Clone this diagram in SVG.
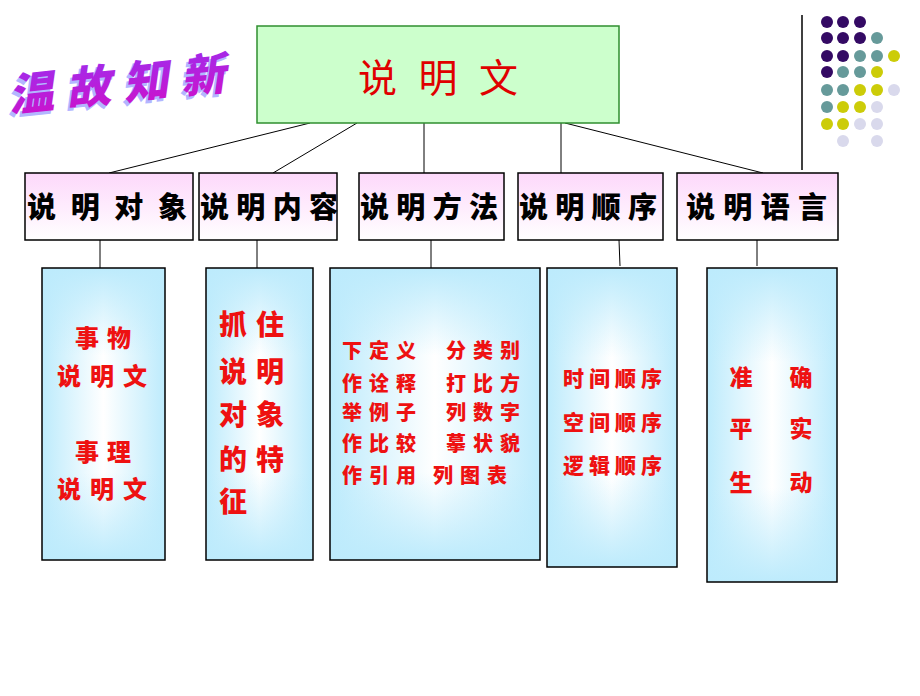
<svg xmlns="http://www.w3.org/2000/svg" width="920" height="696" viewBox="0 0 920 696">
<defs>
<linearGradient id="pink" x1="0" y1="0" x2="0" y2="1">
<stop offset="0" stop-color="#fdd8fb"/>
<stop offset="1" stop-color="#ffffff"/>
</linearGradient>
<linearGradient id="blueH" x1="0" y1="0" x2="1" y2="0">
<stop offset="0" stop-color="#bdebfc"/>
<stop offset="0.5" stop-color="#ffffff"/>
<stop offset="1" stop-color="#bdebfc"/>
</linearGradient>
<linearGradient id="blueV" x1="0" y1="0" x2="0" y2="1">
<stop offset="0" stop-color="#bdebfc" stop-opacity="1"/>
<stop offset="0.3" stop-color="#bdebfc" stop-opacity="0"/>
<stop offset="0.7" stop-color="#bdebfc" stop-opacity="0"/>
<stop offset="1" stop-color="#bdebfc" stop-opacity="1"/>
</linearGradient>
<linearGradient id="titleGrad" x1="0" y1="0" x2="0" y2="1">
<stop offset="0" stop-color="#9a30f0"/>
<stop offset="1" stop-color="#d010c8"/>
</linearGradient>
</defs>
<style>
.cjk{font-family:"Noto Sans CJK SC","Noto Sans CJK JP",sans-serif;}
.l2box{fill:url(#pink);stroke:#000;stroke-width:1.5;}
.l3h{fill:url(#blueH);stroke:none;}
.l3v{fill:url(#blueV);stroke:#000;stroke-width:1.5;}
.l2t{font-size:29px;font-weight:900;fill:#000;}
.rt{font-weight:900;fill:#ee1111;}
.conn line{stroke:#000;stroke-width:1;}
.P{fill:#340a64;}.T{fill:#669a9a;}.Y{fill:#cccc08;}.L{fill:#d9d9ec;}
</style>
<rect width="920" height="696" fill="#ffffff"/>

<g id="title">
<g transform="rotate(-6 112 78)" class="cjk" font-size="45" font-weight="900" font-style="italic">
<text x="4" y="104" fill="#b3b6ff" textLength="218" lengthAdjust="spacing">温故知新</text>
<text x="7" y="101" fill="url(#titleGrad)" textLength="218" lengthAdjust="spacing">温故知新</text>
</g>
</g>

<g id="decor">
<line x1="802" y1="15" x2="802" y2="170" stroke="#000" stroke-width="1.5"/>
<circle class="P" cx="827" cy="22" r="6"/><circle class="P" cx="843" cy="22" r="6"/><circle class="P" cx="860" cy="22" r="6"/>
<circle class="P" cx="827" cy="38" r="6"/><circle class="P" cx="843" cy="38" r="6"/><circle class="P" cx="860" cy="38" r="6"/><circle class="T" cx="877" cy="38" r="6"/>
<circle class="P" cx="827" cy="56" r="6"/><circle class="P" cx="843" cy="56" r="6"/><circle class="T" cx="860" cy="56" r="6"/><circle class="T" cx="877" cy="56" r="6"/><circle class="Y" cx="894" cy="56" r="6"/>
<circle class="P" cx="827" cy="72" r="6"/><circle class="T" cx="843" cy="72" r="6"/><circle class="T" cx="860" cy="72" r="6"/><circle class="Y" cx="877" cy="72" r="6"/>
<circle class="T" cx="827" cy="90" r="6"/><circle class="T" cx="843" cy="90" r="6"/><circle class="Y" cx="860" cy="90" r="6"/><circle class="Y" cx="877" cy="90" r="6"/><circle class="L" cx="894" cy="90" r="6"/>
<circle class="T" cx="827" cy="107" r="6"/><circle class="Y" cx="843" cy="107" r="6"/><circle class="Y" cx="860" cy="107" r="6"/><circle class="L" cx="877" cy="107" r="6"/>
<circle class="Y" cx="827" cy="124" r="6"/><circle class="Y" cx="843" cy="124" r="6"/><circle class="L" cx="860" cy="124" r="6"/><circle class="L" cx="877" cy="124" r="6"/>
<circle class="L" cx="843" cy="141" r="6"/><circle class="L" cx="877" cy="141" r="6"/>
</g>

<g id="connectors" class="conn">
<line x1="310" y1="123" x2="109" y2="173"/>
<line x1="357" y1="123" x2="273" y2="173"/>
<line x1="424" y1="123" x2="424" y2="173"/>
<line x1="561" y1="123" x2="561" y2="173"/>
<line x1="565" y1="123" x2="763" y2="173"/>
<line x1="100" y1="240" x2="100" y2="268"/>
<line x1="257" y1="240" x2="257" y2="268"/>
<line x1="431" y1="240" x2="431" y2="268"/>
<line x1="619" y1="240" x2="620" y2="266"/>
<line x1="757" y1="240" x2="757" y2="266"/>
</g>

<g id="root">
<rect x="257" y="26" width="362" height="97" fill="#ccffcc" stroke="#2f8f2f" stroke-width="1.5"/>
<text class="cjk" x="358" y="92" font-size="39" fill="#e00000" textLength="160" lengthAdjust="spacing">说明文</text>
</g>

<g id="n-object">
<rect class="l2box" x="25" y="173" width="168" height="67"/>
<text class="cjk l2t" x="27" y="218" textLength="160" lengthAdjust="spacing">说明对象</text>
</g>
<g id="n-content">
<rect class="l2box" x="199" y="173" width="138" height="67"/>
<text class="cjk l2t" x="200" y="218" textLength="138" lengthAdjust="spacing">说明内容</text>
</g>
<g id="n-method">
<rect class="l2box" x="359" y="173" width="145" height="67"/>
<text class="cjk l2t" x="360" y="218" textLength="138" lengthAdjust="spacing">说明方法</text>
</g>
<g id="n-order">
<rect class="l2box" x="518" y="173" width="145" height="67"/>
<text class="cjk l2t" x="519" y="218" textLength="138" lengthAdjust="spacing">说明顺序</text>
</g>
<g id="n-language">
<rect class="l2box" x="677" y="173" width="161" height="67"/>
<text class="cjk l2t" x="686" y="218" textLength="141" lengthAdjust="spacing">说明语言</text>
</g>

<g id="d-object">
<rect class="l3h" x="42" y="268" width="123" height="292"/>
<rect class="l3v" x="42" y="268" width="123" height="292"/>
<g class="cjk rt" font-size="24">
<text x="75" y="347" textLength="56" lengthAdjust="spacing">事物</text>
<text x="57" y="385" textLength="90" lengthAdjust="spacing">说明文</text>
<text x="75" y="461" textLength="56" lengthAdjust="spacing">事理</text>
<text x="57" y="498" textLength="90" lengthAdjust="spacing">说明文</text>
</g>
</g>

<g id="d-content">
<rect class="l3h" x="206" y="268" width="107" height="292"/>
<rect class="l3v" x="206" y="268" width="107" height="292"/>
<g class="cjk rt" font-size="28">
<text x="219" y="335" textLength="65" lengthAdjust="spacing">抓住</text>
<text x="219" y="382" textLength="65" lengthAdjust="spacing">说明</text>
<text x="219" y="425" textLength="65" lengthAdjust="spacing">对象</text>
<text x="219" y="470" textLength="65" lengthAdjust="spacing">的特</text>
<text x="219" y="512">征</text>
</g>
</g>

<g id="d-method">
<rect class="l3h" x="330" y="268" width="210" height="292"/>
<rect class="l3v" x="330" y="268" width="210" height="292"/>
<g class="cjk rt" font-size="20">
<text x="342" y="358" textLength="74" lengthAdjust="spacing">下定义</text>
<text x="446" y="358" textLength="74" lengthAdjust="spacing">分类别</text>
<text x="342" y="391" textLength="74" lengthAdjust="spacing">作诠释</text>
<text x="446" y="391" textLength="74" lengthAdjust="spacing">打比方</text>
<text x="342" y="420" textLength="74" lengthAdjust="spacing">举例子</text>
<text x="446" y="420" textLength="74" lengthAdjust="spacing">列数字</text>
<text x="342" y="451" textLength="74" lengthAdjust="spacing">作比较</text>
<text x="446" y="451" textLength="74" lengthAdjust="spacing">摹状貌</text>
<text x="342" y="483" textLength="74" lengthAdjust="spacing">作引用</text>
<text x="433" y="483" textLength="74" lengthAdjust="spacing">列图表</text>
</g>
</g>

<g id="d-order">
<rect class="l3h" x="547" y="268" width="130" height="299"/>
<rect class="l3v" x="547" y="268" width="130" height="299"/>
<g class="cjk rt" font-size="21">
<text x="563" y="386" textLength="99" lengthAdjust="spacing">时间顺序</text>
<text x="563" y="430" textLength="99" lengthAdjust="spacing">空间顺序</text>
<text x="563" y="473" textLength="99" lengthAdjust="spacing">逻辑顺序</text>
</g>
</g>

<g id="d-language">
<rect class="l3h" x="707" y="268" width="130" height="314"/>
<rect class="l3v" x="707" y="268" width="130" height="314"/>
<g class="cjk rt" font-size="23" text-anchor="middle">
<text x="741" y="386">准</text>
<text x="801" y="386">确</text>
<text x="741" y="437">平</text>
<text x="801" y="437">实</text>
<text x="741" y="491">生</text>
<text x="801" y="491">动</text>
</g>
</g>
</svg>
